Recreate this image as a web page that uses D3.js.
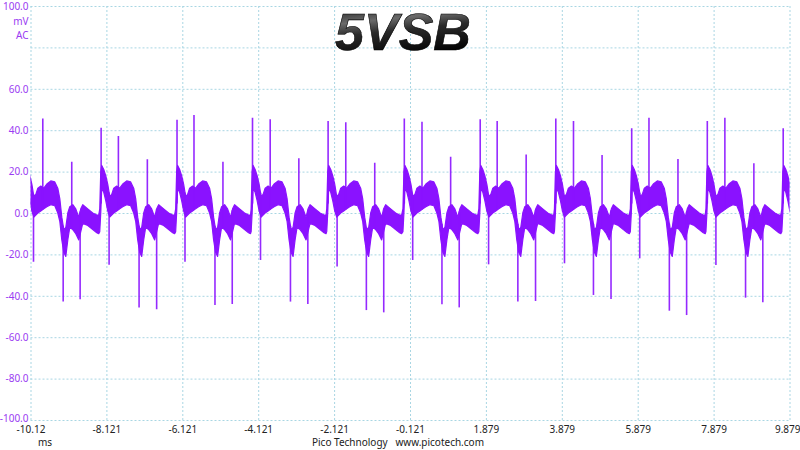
<!DOCTYPE html>
<html><head><meta charset="utf-8">
<script src="https://cdn.jsdelivr.net/npm/d3@7"></script>
<style>
html,body{margin:0;padding:0;background:#fff;}
svg{display:block;}
</style></head>
<body>
<svg id="chart" width="800" height="450"></svg>
<script>
// ---- data ----
const xTickValues = [-10.121, -8.121, -6.121, -4.121, -2.121, -0.121, 1.879, 3.879, 5.879, 7.879, 9.879];
const xTickLabels = ["-10.12", "-8.121", "-6.121", "-4.121", "-2.121", "-0.121", "1.879", "3.879", "5.879", "7.879", "9.879"];
const yTickValues = [100, 80, 60, 40, 20, 0, -20, -40, -60, -80, -100];
const yTickLabels = ["100.0", "", "60.0", "40.0", "20.0", "0.0", "-20.0", "-40.0", "-60.0", "-80.0", "-100.0"];
const yUnitLabels = ["mV", "AC"];
const xUnitLabel = "ms";
const footerText = "Pico Technology   www.picotech.com";
const titleText = "5VSB";

// one cycle of the noisy band, offsets (ms) from each cycle's rising edge
const cycleOffset = [-0.026, 0.000, 0.026, 0.079, 0.132, 0.184, 0.237, 0.289, 0.342, 0.421, 0.500, 0.579, 0.684, 0.789, 0.868, 0.921, 0.974, 1.026, 1.079, 1.132, 1.184, 1.263, 1.342, 1.421, 1.474, 1.526, 1.658, 1.789, 1.895, 1.947];
const cycleLow    = [-9, 0, 12, 10, 6, 1, -2, -1, 0, 1, 2, 3, 4, 3.5, 0, -4, -13, -19, -21, -13, -7, -8, -10, -13, -9, -5, -6, -8, -9.5, -10];
const cycleHigh   = [2, 20, 23, 21, 18, 14, 8, 9, 12, 13, 12, 14, 15.5, 15, 12, 7, -2, -8, -7, 0, 3, 4, 2, -2, 2, 4, 2, 0, -1, -1];
// rising edges of each cycle (ms)
const cycleStart = [-10.270, -8.270, -6.270, -4.281, -2.289, -0.281, 1.719, 3.711, 5.711, 7.703, 9.703];

// positive spikes (ms, mV)
const upSpikeTime = [-9.797, -9.034, -8.260, -7.805, -7.042, -6.260, -5.813, -5.050, -4.271, -3.805, -3.050, -2.279, -1.813, -1.050, -0.271, 0.195, 0.950, 1.729, 2.176, 2.940, 3.721, 4.187, 4.940, 5.721, 6.176, 6.940, 7.713, 8.176, 8.940, 9.713];
const upSpikeValue = [45.7, 24.8, 41.2, 37.2, 26.0, 45.0, 47.3, 24.8, 46.0, 45.3, 26.4, 44.4, 43.8, 24.3, 45.7, 44.1, 27.2, 45.3, 44.4, 28.3, 45.7, 44.4, 28.0, 40.9, 46.0, 26.1, 44.4, 46.0, 24.0, 40.9];
// negative spikes (ms, mV)
const downSpikeTime = [-10.042, -9.260, -8.813, -8.050, -7.260, -6.797, -6.050, -5.260, -4.805, -4.060, -3.271, -2.813, -2.042, -1.271, -0.813, -0.050, 0.721, 1.176, 1.950, 2.721, 3.187, 3.950, 4.713, 5.176, 5.932, 6.713, 7.168, 7.940, 8.721, 9.176];
const downSpikeValue = [-23.5, -42.8, -41.7, -25.0, -45.6, -46.5, -23.5, -44.4, -44.0, -22.7, -42.8, -44.0, -25.9, -46.9, -48.0, -22.7, -44.1, -45.6, -24.8, -42.8, -42.5, -24.3, -39.6, -41.5, -21.9, -47.2, -49.3, -25.1, -40.9, -43.1];

// ---- drawing ----
const svg = d3.select("#chart");
const plot = {left: 30.5, right: 789.5, top: 6, bottom: 420};
const x = d3.scaleLinear().domain([-10.121, 9.879]).range([plot.left, plot.right]);
const y = d3.scaleLinear().domain([-100, 100]).range([plot.bottom, plot.top]);

const gridColor = "#a9d6e3";
const labelPurple = "#9a3cf2";
const trace = "#8a12ff";
const font = "'Noto Sans', 'Open Sans', sans-serif";
const fs = 10;

const defs = svg.append("defs");
defs.append("clipPath").attr("id", "clip").append("rect")
  .attr("x", plot.left).attr("y", plot.top)
  .attr("width", plot.right - plot.left).attr("height", plot.bottom - plot.top);
const grad = defs.append("linearGradient").attr("id", "tgrad")
  .attr("x1", 0).attr("y1", 0).attr("x2", 0.25).attr("y2", 1);
grad.append("stop").attr("offset", "0%").attr("stop-color", "#111");
grad.append("stop").attr("offset", "35%").attr("stop-color", "#6a6a6a");
grad.append("stop").attr("offset", "55%").attr("stop-color", "#2a2a2a");
grad.append("stop").attr("offset", "100%").attr("stop-color", "#000");

// grid via axes
const gx = svg.append("g").attr("transform", `translate(0,${plot.bottom})`)
  .call(d3.axisBottom(x).tickValues(xTickValues).tickSize(-(plot.bottom - plot.top)).tickFormat((d, i) => xTickLabels[i]));
gx.select(".domain").remove();
gx.selectAll(".tick line").attr("stroke", gridColor).attr("stroke-dasharray", "2,2").attr("stroke-width", 1);
gx.selectAll(".tick text").attr("font-family", font).attr("font-size", fs).attr("fill", "#222")
  .attr("y", 6).attr("dy", "0.71em");
gx.selectAll(".tick").filter((d, i) => i === xTickValues.length - 1).select("text")
  .attr("text-anchor", "end").attr("x", 10.5);

const gy = svg.append("g").attr("transform", `translate(${plot.left},0)`)
  .call(d3.axisLeft(y).tickValues(yTickValues).tickSize(-(plot.right - plot.left)).tickPadding(2).tickFormat((d, i) => yTickLabels[i]));
gy.select(".domain").remove();
gy.selectAll(".tick line").attr("stroke", gridColor).attr("stroke-dasharray", "2,2").attr("stroke-width", 1);
gy.selectAll(".tick text").attr("font-family", font).attr("font-size", fs).attr("fill", labelPurple);
gy.selectAll(".tick").filter((d, i) => i === yTickValues.length - 1).select("text").attr("dy", "0.12em");

// unit labels
svg.append("g").selectAll("text").data(yUnitLabels).join("text")
  .attr("x", plot.left - 2).attr("y", (d, i) => 21 + i * 14).attr("dy", "0.35em")
  .attr("text-anchor", "end").attr("font-family", font).attr("font-size", fs).attr("fill", labelPurple).text(d => d);
svg.append("text").attr("x", 38).attr("y", 446).attr("font-family", font).attr("font-size", fs).attr("fill", "#222").text(xUnitLabel);
svg.append("text").attr("x", 398).attr("y", 446).attr("text-anchor", "middle").attr("font-family", font).attr("font-size", fs).attr("fill", "#222").style("white-space", "pre").text(footerText);

// build the band from the cycle shape at each read cycle start
const env = [];
cycleStart.forEach(s => {
  cycleOffset.forEach((o, i) => env.push({t: s + o, lo: cycleLow[i], hi: cycleHigh[i]}));
});
env.sort((a, b) => a.t - b.t);

const g = svg.append("g").attr("clip-path", "url(#clip)");
g.append("path").datum(env)
  .attr("d", d3.area().x(d => x(d.t)).y0(d => y(d.lo)).y1(d => y(d.hi)))
  .attr("fill", trace).attr("stroke", trace).attr("stroke-width", 1.2).attr("stroke-linejoin", "round");

const bis = d3.bisector(d => d.t).left;
function envAt(t, key) {
  const i = Math.max(1, Math.min(env.length - 1, bis(env, t)));
  const a = env[i - 1], b = env[i];
  const f = (t - a.t) / (b.t - a.t || 1);
  return a[key] + (b[key] - a[key]) * f;
}
const up = upSpikeTime.map((t, i) => ({t, v: upSpikeValue[i], b: envAt(t, "lo")}));
const dn = downSpikeTime.map((t, i) => ({t, v: downSpikeValue[i], b: envAt(t, "hi")}));
g.selectAll("line.sp").data(up.concat(dn)).join("line").attr("class", "sp")
  .attr("x1", d => x(d.t)).attr("x2", d => x(d.t))
  .attr("y1", d => y(d.b)).attr("y2", d => y(d.v))
  .attr("stroke", trace).attr("stroke-width", 1.6).attr("stroke-opacity", 0.9);

// title
svg.append("text").attr("x", 403).attr("y", 50).attr("text-anchor", "middle")
  .attr("font-family", "'Liberation Sans', Arial, sans-serif").attr("font-weight", "bold").attr("font-style", "italic")
  .attr("font-size", 52).attr("fill", "url(#tgrad)").attr("stroke", "#000").attr("stroke-width", 0.6)
  .text(titleText);
</script>
</body></html>
